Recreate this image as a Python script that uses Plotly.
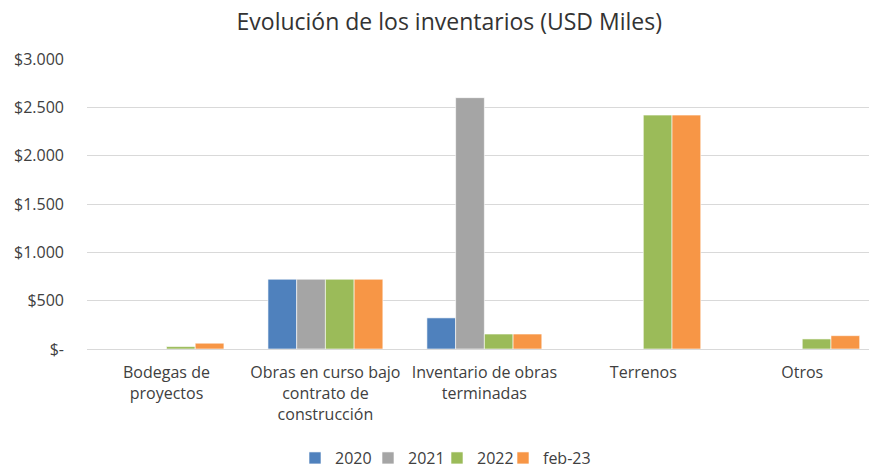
import plotly.graph_objects as go

categories = ["Bodegas de<br>proyectos", "Obras en curso bajo<br>contrato de<br>construcción",
              "Inventario de obras<br>terminadas", "Terrenos", "Otros"]
series_names = ["2020", "2021", "2022", "feb-23"]
v2020 = [0, 722, 322, 0, 0]
v2021 = [0, 722, 2600, 0, 0]
v2022 = [25, 722, 155, 2420, 104]
vfeb23 = [60, 722, 155, 2420, 138]
colors = ["#4F81BD", "#A5A5A5", "#9BBB59", "#F79646"]
tick_vals = [0, 500, 1000, 1500, 2000, 2500, 3000]
tick_text = ["$-", "$500", "$1.000", "$1.500", "$2.000", "$2.500", "$3.000"]

font = "Open Sans"
txt = "#404040"
legend_ids = ["legend", "legend2", "legend3", "legend4"]
legend_x = [295, 368, 437, 503]  # left edge of each legend entry, pixels

fig = go.Figure()
for name, vals, col, lid in zip(series_names, [v2020, v2021, v2022, vfeb23], colors, legend_ids):
    fig.add_trace(go.Bar(name=name, x=categories, y=vals, marker_color=col,
                         marker_line_color="white", marker_line_width=0.6, legend=lid))

legend_common = dict(orientation="h", xref="container", xanchor="left", yref="paper",
                     y=-0.376, yanchor="middle", bgcolor="rgba(0,0,0,0)",
                     font=dict(family=font, size=16, color=txt), itemwidth=30)
legends = {lid: dict(legend_common, x=lx / 869) for lid, lx in zip(legend_ids, legend_x)}

fig.update_layout(
    width=869, height=466,
    paper_bgcolor="white", plot_bgcolor="white",
    margin=dict(l=87, r=0, t=59, b=117, autoexpand=False),
    barmode="group", bargap=0.277, bargroupgap=0,
    title=dict(text="Evolución de los inventarios (USD Miles)", x=0.517, xanchor="center",
               y=0.953, yanchor="middle", font=dict(family=font, size=23, color="#333333")),
    font=dict(family=font, size=16, color=txt),
    showlegend=True,
    xaxis=dict(range=[-0.5, 4.42], showgrid=False, showline=False, ticks="", automargin=False,
               ticklabelstandoff=12,
               tickfont=dict(family=font, size=16, color=txt), fixedrange=True),
    yaxis=dict(range=[0, 3000], tickvals=tick_vals, ticktext=tick_text, showgrid=True,
               gridcolor="#D9D9D9", gridwidth=1, zeroline=True, zerolinecolor="#D9D9D9",
               zerolinewidth=1, showline=False, ticks="", ticklabelstandoff=22, automargin=False,
               tickfont=dict(family=font, size=16, color=txt)),
    **legends,
)
fig.write_html("out.html", post_script="document.body.style.margin='0';",
               config={"displayModeBar": False})
